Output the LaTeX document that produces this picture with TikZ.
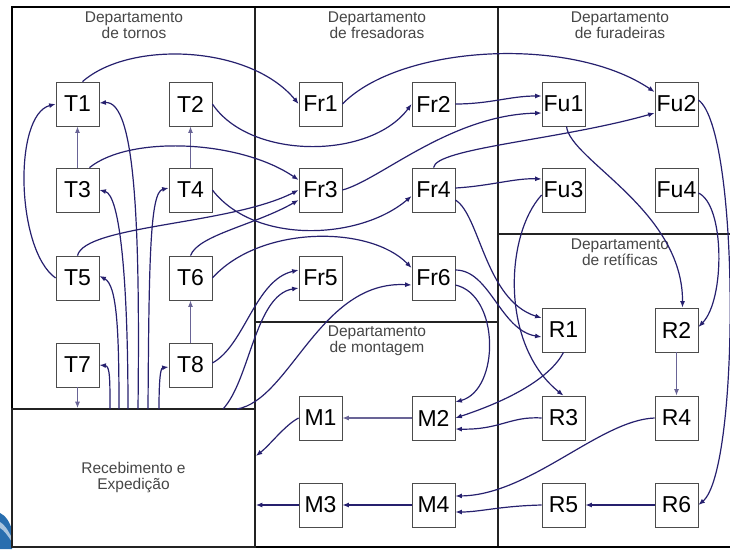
\documentclass[tikz,border=0pt]{standalone}
\usepackage{fontspec}
\setmainfont{Liberation Sans}
\usetikzlibrary{arrows.meta}
\definecolor{arr}{RGB}{38,32,110}
\definecolor{arrl}{RGB}{105,100,150}
\definecolor{frm}{RGB}{35,35,35}
\definecolor{lbl}{RGB}{70,70,70}
\definecolor{deco}{RGB}{40,110,175}
\begin{document}
\begin{tikzpicture}[x=1pt,y=-1pt,
  box/.style={draw=black!70, fill=white, line width=0.8pt, minimum width=43pt, minimum height=44pt, inner sep=0pt, font=\fontsize{23}{25}\selectfont},
  dept/.style={align=center, font=\fontsize{15.5}{16}\selectfont, text=lbl, inner sep=0pt, anchor=north},
  flow/.style={draw=arr, line width=1.2pt, -{Latex[length=6.5pt,width=5pt]}},
  sflow/.style={draw=arrl, line width=1.1pt, -{Latex[length=6.5pt,width=5pt]}},
  wall/.style={draw=frm, line width=1.6pt},
  outer/.style={draw=black, line width=2pt}]
\useasboundingbox (0,0) rectangle (730,549);
% decoration bottom-left
\fill[deco] (0,513) .. controls (5,515) and (10,522) .. (12,530) -- (12,549) -- (0,549) -- cycle;
\fill[deco!40] (0,522) .. controls (4,524) and (8,530) .. (12,538) -- (12,542) .. controls (8,536) and (4,530) .. (0,528) -- cycle;
% walls
\draw[wall] (255,7) -- (255,547);
\draw[wall] (498,7) -- (498,547);
\draw[wall] (498,234) -- (733,234);
\draw[wall] (255,322) -- (498,322);
\draw[outer] (733,7) -- (12,7) -- (12,547) -- (733,547);
% receiving
\node[draw=frm, line width=1.6pt, minimum width=243pt, minimum height=138pt, inner sep=0pt,
      align=center, font=\fontsize{15.5}{16}\selectfont, text=lbl] (Rec) at (133.5,478) {Recebimento e\\Expedição};
% labels
\node[dept] (Lt) at (134,11.7) {Departamento\\de tornos};
\node[dept] (Lf) at (377,12) {Departamento\\de fresadoras};
\node[dept] (Lu) at (620,12) {Departamento\\de furadeiras};
\node[dept] (Lr) at (620,238.3) {Departamento\\de retíficas};
\node[dept] (Lm) at (377,326) {Departamento\\de montagem};
% machines
\node[box] (T1) at (77.5,104) {T1};
\node[box] (T2) at (190.5,104) {T2};
\node[box] (T3) at (77.5,190) {T3};
\node[box] (T4) at (190.5,190) {T4};
\node[box] (T5) at (77.5,278) {T5};
\node[box] (T6) at (190.5,278) {T6};
\node[box] (T7) at (77.5,365) {T7};
\node[box] (T8) at (190.5,365) {T8};
\node[box] (Fr1) at (320.5,104) {Fr1};
\node[box] (Fr2) at (433.5,104) {Fr2};
\node[box] (Fr3) at (320.5,190) {Fr3};
\node[box] (Fr4) at (433.5,190) {Fr4};
\node[box] (Fr5) at (320.5,278) {Fr5};
\node[box] (Fr6) at (433.5,278) {Fr6};
\node[box] (Fu1) at (563.5,104) {Fu1};
\node[box] (Fu2) at (676.5,104) {Fu2};
\node[box] (Fu3) at (563.5,190) {Fu3};
\node[box] (Fu4) at (676.5,190) {Fu4};
\node[box] (R1) at (563.5,330) {R1};
\node[box] (R2) at (676.5,330) {R2};
\node[box] (R3) at (563.5,418) {R3};
\node[box] (R4) at (676.5,418) {R4};
\node[box] (R5) at (563.5,505) {R5};
\node[box] (R6) at (676.5,505) {R6};
\node[box] (M1) at (320.5,418) {M1};
\node[box] (M2) at (433.5,418) {M2};
\node[box] (M3) at (320.5,505) {M3};
\node[box] (M4) at (433.5,505) {M4};
% source points on top of receiving
\coordinate (s1) at (110,409);
\coordinate (s2) at (119,409);
\coordinate (s3) at (128,409);
\coordinate (s4) at (138,409);
\coordinate (s5) at (148,409);
\coordinate (s6) at (159,409);
\coordinate (s7) at (223,409);
\coordinate (s8) at (237,409);
% straight connectors
\draw[sflow] (T3) -- (T1);
\draw[sflow] (T4) -- (T2);
\draw[sflow] (T8) -- (T6);
\draw[sflow] (T7) -- (T7 |- Rec.north);
\draw[sflow] (R2) -- (R4);
\draw[sflow] (M2) -- (M1);
\draw[flow] (R6) -- (R5);
\draw[flow] (M4) -- (M3);
\draw[flow] (M3) -- (M3 -| Rec.east);
% lathes
\draw[flow] (T5.west) .. controls (16,250) and (13,115) .. (T1.west);
\draw[flow] (s1) .. controls (110,380) and (110,366) .. (T7.east);
\draw[flow] (s2) .. controls (119,330) and (117,285) .. ([yshift=2pt]T5.east);
\draw[flow] (s3) .. controls (128,280) and (120,195) .. (T3.east);
\draw[flow] (s4) .. controls (140,230) and (136,100) .. ([yshift=1pt]T1.east);
\draw[flow] (s5) .. controls (149,260) and (150,192) .. ([yshift=2pt]T4.west);
\draw[flow] (s6) .. controls (159,385) and (160,368) .. ([yshift=-2pt]T8.west);
% lathes to mills
\draw[flow] ([xshift=5pt]T1.north) .. controls (130,40) and (250,45) .. (Fr1.west);
\draw[flow] (T2.east) .. controls (250,160) and (370,160) .. (Fr2.west);
\draw[flow] ([xshift=12pt]T3.north) .. controls (130,135) and (240,140) .. ([yshift=10pt]Fr3.west);
\draw[flow] (T4.east) .. controls (255,245) and (360,240) .. ([yshift=-6pt]Fr4.west);
\draw[flow] (T5.north) .. controls (85,225) and (230,225) .. (Fr3.west);
\draw[flow] (T6.north) .. controls (198,235) and (255,225) .. ([yshift=-10pt]Fr3.west);
\draw[flow] (T6.east) .. controls (260,225) and (370,225) .. ([yshift=10pt]Fr6.west);
\draw[flow] ([yshift=2pt]T8.east) .. controls (245,345) and (255,280) .. ([yshift=8pt]Fr5.west);
\draw[flow] (s7) .. controls (250,380) and (255,295) .. ([yshift=-10pt]Fr5.west);
\draw[flow] (s8) .. controls (290,400) and (320,280) .. ([yshift=-7pt]Fr6.west);
% mills to drills / grinders / assembly
\draw[flow] (Fr1.east) .. controls (400,45) and (570,35) .. ([yshift=12pt]Fu2.west);
\draw[flow] (Fr2.east) .. controls (490,104) and (510,96) .. ([yshift=8pt]Fu1.west);
\draw[flow] (Fr3.east) .. controls (380,180) and (450,115) .. ([yshift=-9pt]Fu1.west);
\draw[flow] (Fr4.north) .. controls (436,148) and (560,140) .. ([yshift=-9pt]Fu2.west);
\draw[flow] ([yshift=2pt]Fr4.east) .. controls (490,186) and (515,178) .. ([yshift=11pt]Fu3.west);
\draw[flow] ([yshift=-10pt]Fr4.east) .. controls (480,215) and (485,300) .. ([yshift=12pt]R1.west);
\draw[flow] ([yshift=8pt]Fr6.east) .. controls (490,270) and (500,330) .. ([yshift=-7pt]R1.west);
\draw[flow] ([yshift=-7pt]Fr6.east) .. controls (500,295) and (500,390) .. ([yshift=16pt]M2.east);
% drills to grinders
\draw[flow] ([xshift=3pt]Fu1.south) .. controls (570,160) and (683,210) .. ([xshift=6pt]R2.north);
\draw[flow] ([yshift=4pt]Fu2.east) .. controls (740,130) and (740,470) .. (R6.east);
\draw[flow] ([yshift=-3pt]Fu4.east) .. controls (725,205) and (725,300) .. ([yshift=3pt]R2.east);
\draw[flow] ([yshift=-5pt]Fu3.west) .. controls (505,235) and (500,345) .. (R3.north);
% grinders to assembly
\draw[flow] (R1.south) .. controls (550,378) and (510,400) .. (M2.east);
\draw[flow] (R3.west) .. controls (510,416) and (500,430) .. ([yshift=-11pt]M2.east);
\draw[flow] (R4.west) .. controls (600,420) and (530,495) .. ([yshift=9pt]M4.east);
\draw[flow] (R5.west) .. controls (500,506) and (480,512) .. ([yshift=-7pt]M4.east);
\draw[flow] (M1.west) .. controls (285,425) and (270,445) .. ([yshift=22pt]Rec.east);
\end{tikzpicture}
\end{document}
